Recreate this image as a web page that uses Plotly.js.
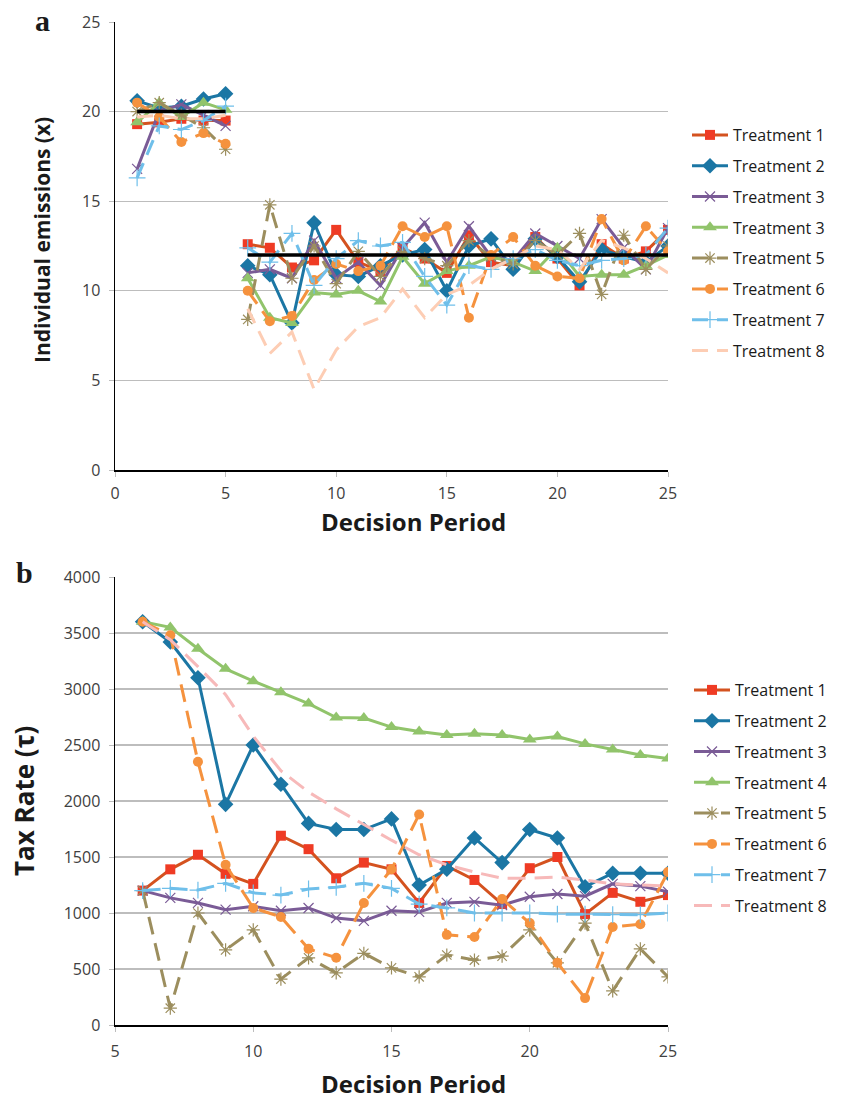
<!DOCTYPE html>
<html>
<head>
<meta charset="utf-8">
<script src="https://cdn.plot.ly/plotly-3.0.1.min.js"></script>
<style>
html,body{margin:0;padding:0;background:#fff;}
#chart{width:841px;height:1099px;}
</style>
</head>
<body>
<div id="chart"></div>
<script>
// ---------- DATA ----------
const periodsA = [1,2,3,4,5,6,7,8,9,10,11,12,13,14,15,16,17,18,19,20,21,22,23,24,25];
const periodsB = [6,7,8,9,10,11,12,13,14,15,16,17,18,19,20,21,22,23,24,25];
const legendNamesA = ["Treatment 1","Treatment 2","Treatment 3","Treatment 3","Treatment 5","Treatment 6","Treatment 7","Treatment 8"];
const legendNamesB = ["Treatment 1","Treatment 2","Treatment 3","Treatment 4","Treatment 5","Treatment 6","Treatment 7","Treatment 8"];
const xTitle = "Decision Period";
const yTitleA = "Individual emissions (x)";
const yTitleB = "Tax Rate (τ)";

// Panel a: individual emissions, periods 1-25
const emisT1 = [19.3,19.4,19.6,19.5,19.5, 12.6,12.4,11.3,11.7,13.4,11.6,11.1,12.4,11.8,11.0,13.1,11.6,11.4,13.0,11.8,10.3,12.6,11.8,12.2,13.4];
const emisT2 = [20.6,20.2,20.3,20.7,21.0, 11.4,10.9,8.2,13.8,10.9,10.8,11.4,12.0,12.3,10.0,12.5,12.9,11.2,12.9,11.9,10.5,12.3,11.9,11.6,12.5];
const emisT3 = [16.8,20.0,20.4,19.8,19.2, 11.0,11.2,10.7,12.8,10.7,11.6,10.3,12.4,13.8,11.6,13.6,11.9,11.7,13.2,12.5,11.8,14.0,12.4,11.2,13.5];
const emisT4 = [19.4,20.5,19.7,20.5,20.1, 10.7,8.5,8.2,9.9,9.8,10.0,9.4,11.9,10.4,11.1,11.4,11.9,11.6,11.1,12.4,10.8,10.9,10.9,11.4,12.0];
const emisT5 = [20.0,20.5,19.8,19.1,17.9, 8.4,14.8,10.7,12.5,10.4,12.2,10.8,12.2,11.8,11.4,12.8,11.9,11.5,12.8,12.0,13.2,9.8,13.1,11.2,12.5];
const emisT6 = [20.5,19.7,18.3,18.8,18.2, 10.0,8.3,8.6,10.6,11.5,11.1,11.4,13.6,13.0,13.6,8.5,12.0,13.0,11.4,10.8,10.7,14.0,11.7,13.6,12.2];
const emisT7 = [16.3,19.2,19.0,19.5,20.3, 12.4,11.6,13.2,10.3,11.8,12.8,12.5,12.7,10.8,9.2,11.4,11.2,11.8,12.3,11.7,11.4,11.7,11.8,12.0,13.5];
const emisT8 = [19.7,19.8,19.6,19.6,19.8, 9.0,6.5,7.7,4.5,6.7,8.0,8.5,10.1,8.5,9.8,10.3,11.2,11.8,12.5,12.3,11.2,12.8,12.4,11.8,11.0];
const targetEmis = [20,20,20,20,20, 12,12,12,12,12,12,12,12,12,12,12,12,12,12,12,12,12,12,12,12];

// Panel b: tax rate, periods 6-25
const taxT1 = [1200,1390,1520,1350,1260,1690,1570,1310,1450,1390,1090,1420,1295,1080,1400,1500,990,1180,1100,1160];
const taxT2 = [3600,3420,3100,1970,2500,2150,1800,1745,1745,1840,1250,1390,1670,1450,1745,1670,1235,1355,1355,1355];
const taxT3 = [1200,1135,1090,1030,1060,1020,1045,955,930,1020,1010,1090,1100,1070,1145,1170,1150,1260,1240,1190];
const taxT4 = [3600,3550,3360,3180,3070,2970,2870,2745,2740,2660,2620,2590,2600,2590,2550,2575,2510,2460,2410,2380];
const taxT5 = [1200,150,1000,670,850,410,600,465,640,510,430,625,580,615,850,555,910,305,680,430];
const taxT6 = [3600,3480,2350,1430,1045,965,680,600,1090,1390,1880,805,785,1125,910,555,240,875,900,1365];
const taxT7 = [1200,1220,1205,1265,1180,1160,1215,1230,1265,1220,1080,1045,1000,1000,1000,990,990,985,985,1000];
const taxT8 = [3600,3440,3200,2950,2580,2270,2080,1930,1790,1650,1520,1430,1365,1310,1310,1320,1295,1260,1250,1240];

// ---------- STYLES ----------
const styles = [
  {line:'#d4521f', marker:'#ef3b24', symbol:'square', size:10, dash:'solid'},
  {line:'#1b76a4', marker:'#1b76a4', symbol:'diamond', size:12, dash:'solid'},
  {line:'#7a5b96', marker:'#7a5b96', symbol:'x-thin', size:10, dash:'solid'},
  {line:'#91c46b', marker:'#91c46b', symbol:'triangle-up', size:12, dash:'solid'},
  {line:'#9c8e5e', marker:'#9c8e5e', symbol:'asterisk', size:11, dash:'16px,9px'},
  {line:'#f5923e', marker:'#f5923e', symbol:'circle', size:10, dash:'16px,9px'},
  {line:'#6fbfea', marker:'#6fbfea', symbol:'cross-thin', size:12, dash:'16px,9px'},
  {line:'#fdcdb4', marker:'#fdcdb4', symbol:'circle', size:0, dash:'16px,9px'}
];
const color8b = '#f7b9b9';

function withGap(arr){ return arr.slice(0,5).concat([null]).concat(arr.slice(5)); }
const xA = withGap(periodsA);

const emisSeries = [emisT1,emisT2,emisT3,emisT4,emisT5,emisT6,emisT7,emisT8];
const taxSeries = [taxT1,taxT2,taxT3,taxT4,taxT5,taxT6,taxT7,taxT8];

const traces = [];
emisSeries.forEach((s,i)=>{
  const st = styles[i];
  traces.push({
    x: xA, y: withGap(s), type:'scatter', mode: st.size? 'lines+markers':'lines',
    name: legendNamesA[i], legend:'legend', legendgroup:'a'+i,
    xaxis:'x', yaxis:'y',
    line:{color:st.line, width:3, dash:st.dash},
    marker:{color:st.marker, symbol:st.symbol, size:st.size, line:{color:st.marker, width:(st.symbol.indexOf('thin')>=0||st.symbol==='asterisk')?1.2:0}},
    connectgaps:false
  });
});
traces.push({
  x: xA, y: withGap(targetEmis), type:'scatter', mode:'lines', showlegend:false,
  xaxis:'x', yaxis:'y', line:{color:'#000', width:3.5}, hoverinfo:'skip'
});
taxSeries.forEach((s,i)=>{
  const st = styles[i];
  const lc = i===7 ? color8b : st.line;
  traces.push({
    x: periodsB, y: s, type:'scatter', mode: st.size? 'lines+markers':'lines',
    name: legendNamesB[i], legend:'legend2', legendgroup:'b'+i,
    xaxis:'x2', yaxis:'y2',
    line:{color:lc, width:3, dash: i<=3 ? 'solid' : '18px,9px'},
    marker:{color:(i===7?color8b:st.marker), symbol:st.symbol, size:st.size, line:{color:st.marker, width:(st.symbol.indexOf('thin')>=0||st.symbol==='asterisk')?1.2:0}}
  });
});

const W=841, H=1099;
const px = v=>v/W, py = v=>1 - v/H;
const fam = 'Open Sans, sans-serif';
const tickFont = {family:fam, size:16, color:'#404040'};

const axCommon = {
  showline:true, linecolor:'#000', linewidth:1.5, mirror:false,
  ticks:'outside', ticklen:5, tickcolor:'#bdbdbd', tickwidth:1,
  tickfont:tickFont, zeroline:false
};
function ann(text, x, y, size, angle, family){
  return {text:text, x:px(x), y:py(y), xref:'paper', yref:'paper', xanchor:'center', yanchor:'middle',
    showarrow:false, textangle:angle||0, font:{family:family||fam, size:size, color:'#1a1a1a', weight:'bold'}};
}

const layout = {
  width:W, height:H, margin:{l:0,r:0,t:0,b:0},
  paper_bgcolor:'#fff', plot_bgcolor:'#fff',
  xaxis: Object.assign({}, axCommon, {domain:[px(115),px(668)], anchor:'y', range:[0,25], dtick:5, tick0:0, showgrid:false, ticklabelstandoff:3}),
  yaxis: Object.assign({}, axCommon, {domain:[py(470),py(22)], anchor:'x', range:[0,25], dtick:5, showgrid:true, gridcolor:'#bdbdbd', gridwidth:1.2, ticklabelstandoff:5}),
  xaxis2: Object.assign({}, axCommon, {domain:[px(115),px(668)], anchor:'y2', range:[5,25], dtick:5, tick0:5, showgrid:false, ticklabelstandoff:6}),
  yaxis2: Object.assign({}, axCommon, {domain:[py(1025),py(577)], anchor:'x2', range:[0,4000], dtick:500, showgrid:true, gridcolor:'#bdbdbd', gridwidth:1.2, ticklabelstandoff:5}),
  legend:{x:px(687), y:py(118), xanchor:'left', yanchor:'top', font:{family:fam, size:16, color:'#1a1a1a'},
    tracegroupgap:7, bgcolor:'rgba(0,0,0,0)', itemwidth:36},
  legend2:{x:px(689), y:py(673), xanchor:'left', yanchor:'top', font:{family:fam, size:16, color:'#1a1a1a'},
    tracegroupgap:7, bgcolor:'rgba(0,0,0,0)', itemwidth:36},
  annotations:[
    ann('<b>a</b>', 42, 20, 30, 0, 'Liberation Serif, serif'),
    ann('<b>b</b>', 24, 572, 30, 0, 'Liberation Serif, serif'),
    ann('<b>'+xTitle+'</b>', 413, 522, 24),
    ann('<b>'+xTitle+'</b>', 413, 1083, 24),
    ann('<b>'+yTitleA+'</b>', 42, 240, 21, -90),
    ann('<b>'+yTitleB+'</b>', 24, 801, 26, -90)
  ]
};

Plotly.newPlot('chart', traces, layout, {staticPlot:true, displayModeBar:false});
</script>
</body>
</html>
